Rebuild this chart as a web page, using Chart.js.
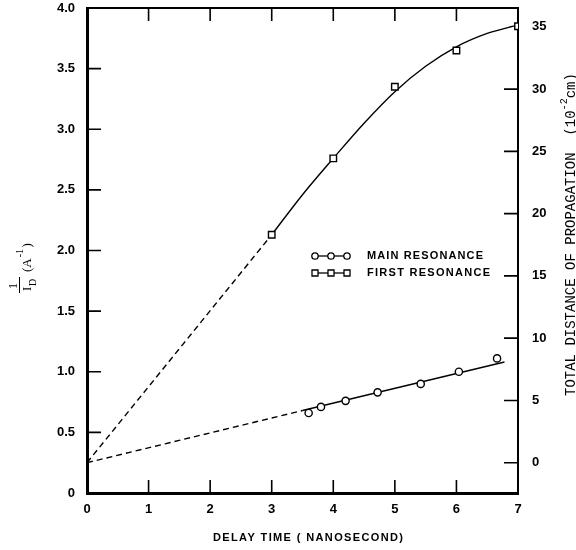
<!DOCTYPE html>
<html>
<head>
<meta charset="utf-8">
<script src="https://cdn.jsdelivr.net/npm/chart.js@4"></script>
<style>
html,body{margin:0;padding:0;background:#fff;}
#wrap{width:576px;height:550px;position:relative;}
</style>
</head>
<body>
<div id="wrap"><canvas id="c" width="576" height="550"></canvas></div>
<script>
// ---- data ----
const xTicks = [0, 1, 2, 3, 4, 5, 6, 7];
const leftTicks = [0, 0.5, 1.0, 1.5, 2.0, 2.5, 3.0, 3.5, 4.0];
const rightTicks = [0, 5, 10, 15, 20, 25, 30, 35];

const mainX = [3.6, 3.8, 4.2, 4.72, 5.42, 6.04, 6.66];
const mainY = [0.66, 0.71, 0.76, 0.83, 0.90, 1.00, 1.11];
const firstX = [3, 4, 5, 6, 7];
const firstY = [2.13, 2.76, 3.35, 3.65, 3.85];

const mainFitX = [3.5, 6.78];
const mainFitY = [0.68, 1.08];
const mainDashX = [0, 3.5];
const mainDashY = [0.25, 0.68];
const firstCurveX = [3, 3.5, 4, 4.5, 5, 5.5, 6, 6.5, 7];
const firstCurveY = [2.13, 2.46, 2.76, 3.05, 3.31, 3.52, 3.68, 3.79, 3.86];
const firstDashX = [0, 3];
const firstDashY = [0.25, 2.13];

const legendLabels = ['MAIN RESONANCE', 'FIRST RESONANCE'];
const xTitle = 'DELAY TIME ( NANOSECOND)';
const rightTitle = 'TOTAL DISTANCE OF PROPAGATION  (10';
const rightTitleSup = '-2';
const rightTitleEnd = 'cm)';

// right axis: r = (L - 0.25) / 0.1027
const rOffset = 0.25, rScale = 0.1027;

const pts = (xs, ys) => xs.map((x, i) => ({x: x, y: ys[i]}));

const tickFont = {family: 'Liberation Sans', size: 13, weight: 'bold'};

const inwardTicks = {
  id: 'inwardTicks',
  afterDraw(chart) {
    const ctx = chart.ctx, a = chart.chartArea;
    ctx.save();
    ctx.strokeStyle = '#000';
    ctx.lineWidth = 1.6;
    const sx = chart.scales.x, sx2 = chart.scales.x2, sy = chart.scales.y, sy2 = chart.scales.y2;
    ctx.beginPath();
    sx.ticks.forEach(t => {
      if (t.value <= 0 || t.value >= 7) return;
      const p = sx.getPixelForValue(t.value);
      ctx.moveTo(p, a.bottom); ctx.lineTo(p, a.bottom - 13);
    });
    sx2.ticks.forEach(t => {
      if (t.value <= 0 || t.value >= 7) return;
      const p = sx2.getPixelForValue(t.value);
      ctx.moveTo(p, a.top); ctx.lineTo(p, a.top + 13);
    });
    sy.ticks.forEach(t => {
      if (t.value <= 0 || t.value >= 4) return;
      const p = sy.getPixelForValue(t.value);
      ctx.moveTo(a.left, p); ctx.lineTo(a.left + 14, p);
    });
    sy2.ticks.forEach(t => {
      if (t.value >= 35) return;
      const p = sy2.getPixelForValue(t.value);
      ctx.moveTo(a.right, p); ctx.lineTo(a.right - 14, p);
    });
    ctx.stroke();
    ctx.restore();
  }
};

function spacedText(ctx, text, x, y, targetW) {
  ctx.letterSpacing = '0px';
  const w = ctx.measureText(text).width;
  const sp = (targetW - w) / (text.length - 1);
  ctx.letterSpacing = sp.toFixed(2) + 'px';
  ctx.fillText(text, x, y);
  ctx.letterSpacing = '0px';
}

const decorations = {
  id: 'decorations',
  afterDraw(chart) {
    const ctx = chart.ctx;
    ctx.save();
    ctx.fillStyle = '#000';
    ctx.strokeStyle = '#000';

    // legend
    const rows = [{y: 256, style: 'circle'}, {y: 273, style: 'rect'}];
    rows.forEach((r, i) => {
      ctx.lineWidth = 1.3;
      ctx.beginPath(); ctx.moveTo(315, r.y); ctx.lineTo(347, r.y); ctx.stroke();
      [315, 331, 347].forEach(px => {
        ctx.beginPath();
        if (r.style === 'circle') ctx.arc(px, r.y, 3.2, 0, Math.PI * 2);
        else ctx.rect(px - 3, r.y - 3, 6, 6);
        ctx.fillStyle = '#fff'; ctx.fill(); ctx.stroke();
      });
      ctx.fillStyle = '#000';
      ctx.font = 'bold 11px "Liberation Sans"';
      ctx.textBaseline = 'middle';
      ctx.textAlign = 'left';
      spacedText(ctx, legendLabels[i], 367, r.y, i === 0 ? 116 : 123);
    });

    // x title
    ctx.font = 'bold 11px "Liberation Sans"';
    ctx.textBaseline = 'middle';
    ctx.textAlign = 'left';
    spacedText(ctx, xTitle, 213, 538, 190);

    // left title (rotated)
    ctx.save();
    ctx.translate(32, 293);
    ctx.rotate(-Math.PI / 2);
    ctx.textBaseline = 'alphabetic';
    ctx.textAlign = 'left';
    ctx.font = '12px "Liberation Serif"';
    ctx.fillText('1', 4, -15);
    ctx.lineWidth = 1;
    ctx.beginPath(); ctx.moveTo(0, -12.5); ctx.lineTo(16, -12.5); ctx.stroke();
    ctx.font = '13px "Liberation Serif"';
    ctx.fillText('I', 2, -1);
    ctx.font = '10px "Liberation Serif"';
    ctx.fillText('D', 7, 4);
    ctx.font = '13px "Liberation Serif"';
    let u = 21;
    ctx.fillText('(A', u, -1);
    u += ctx.measureText('(A').width + 1;
    ctx.font = '10px "Liberation Serif"';
    ctx.fillText('-1', u, -9);
    u += ctx.measureText('-1').width + 1.5;
    ctx.font = '13px "Liberation Serif"';
    ctx.fillText(')', u, -1);
    ctx.restore();

    // right title (rotated)
    ctx.save();
    ctx.translate(575, 396);
    ctx.rotate(-Math.PI / 2);
    ctx.textBaseline = 'alphabetic';
    ctx.textAlign = 'left';
    ctx.font = '14px "Liberation Mono"';
    ctx.fillText(rightTitle, 0, 0);
    let v = ctx.measureText(rightTitle).width;
    ctx.font = '10px "Liberation Mono"';
    ctx.fillText(rightTitleSup, v, -8);
    v += ctx.measureText(rightTitleSup).width;
    ctx.font = '14px "Liberation Mono"';
    ctx.fillText(rightTitleEnd, v, 0);
    ctx.restore();

    ctx.restore();
  }
};

const lineDs = (xs, ys, dashed, curve) => ({
  data: pts(xs, ys),
  showLine: true,
  borderColor: '#000',
  borderWidth: 1.4,
  borderDash: dashed ? [6, 4] : [],
  pointRadius: 0,
  pointHoverRadius: 0,
  fill: false,
  cubicInterpolationMode: curve ? 'monotone' : 'default',
  tension: 0,
  order: 2
});

const noPad = s => { s.paddingTop = 0; s.paddingBottom = 0; s.paddingLeft = 0; s.paddingRight = 0; };

new Chart(document.getElementById('c'), {
  type: 'scatter',
  data: {
    datasets: [
      lineDs(mainDashX, mainDashY, true, false),
      lineDs(mainFitX, mainFitY, false, false),
      lineDs(firstDashX, firstDashY, true, false),
      lineDs(firstCurveX, firstCurveY, false, true),
      {
        label: legendLabels[0],
        data: pts(mainX, mainY),
        pointStyle: 'circle',
        pointRadius: 3.6,
        pointBackgroundColor: '#fff',
        pointBorderColor: '#000',
        pointBorderWidth: 1.4,
        showLine: false,
        order: 1
      },
      {
        label: legendLabels[1],
        data: pts(firstX, firstY),
        pointStyle: 'rect',
        pointRadius: 4.6,
        pointBackgroundColor: '#fff',
        pointBorderColor: '#000',
        pointBorderWidth: 1.4,
        showLine: false,
        order: 1
      }
    ]
  },
  options: {
    responsive: false,
    animation: false,
    events: [],
    layout: {padding: 0},
    plugins: {legend: {display: false}, tooltip: {enabled: false}, title: {display: false}},
    scales: {
      x: {
        type: 'linear', position: 'bottom', min: 0, max: 7,
        afterBuildTicks: s => { s.ticks = xTicks.map(v => ({value: v})); },
        afterFit: s => { s.height = 57; noPad(s); },
        grid: {drawOnChartArea: false, drawTicks: false},
        border: {display: true, color: '#000', width: 3},
        ticks: {color: '#000', font: tickFont, padding: 9, maxRotation: 0, callback: v => String(v)}
      },
      x2: {
        type: 'linear', position: 'top', min: 0, max: 7,
        afterBuildTicks: s => { s.ticks = xTicks.map(v => ({value: v})); },
        afterFit: s => { s.height = 8; noPad(s); },
        grid: {drawOnChartArea: false, drawTicks: false},
        border: {display: true, color: '#000', width: 2},
        ticks: {display: false}
      },
      y: {
        type: 'linear', position: 'left', min: 0, max: 4,
        afterBuildTicks: s => { s.ticks = leftTicks.map(v => ({value: v})); },
        afterFit: s => { s.width = 87; noPad(s); },
        grid: {drawOnChartArea: false, drawTicks: false},
        border: {display: true, color: '#000', width: 3},
        ticks: {color: '#000', font: tickFont, padding: 12, callback: v => v === 0 ? '0' : v.toFixed(1)}
      },
      y2: {
        type: 'linear', position: 'right',
        min: -rOffset / rScale, max: (4 - rOffset) / rScale,
        afterBuildTicks: s => { s.ticks = rightTicks.map(v => ({value: v})); },
        afterFit: s => { s.width = 58; noPad(s); },
        grid: {drawOnChartArea: false, drawTicks: false},
        border: {display: true, color: '#000', width: 2},
        ticks: {color: '#000', font: tickFont, padding: 14, callback: v => String(v)}
      }
    }
  },
  plugins: [inwardTicks, decorations]
});
</script>
</body>
</html>
